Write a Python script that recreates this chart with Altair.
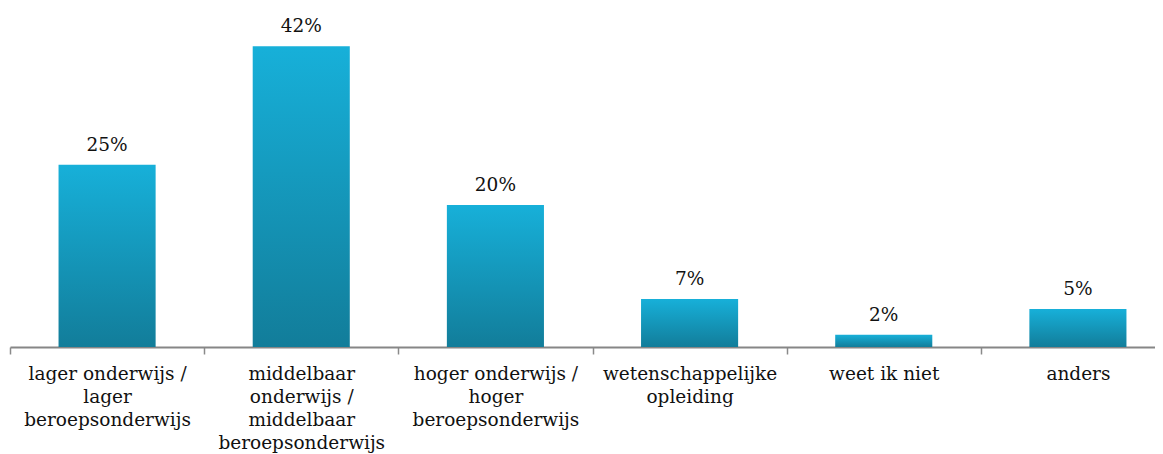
import altair as alt
import pandas as pd

label_lines = [
    ["lager onderwijs /", "lager", "beroepsonderwijs"],
    ["middelbaar", "onderwijs /", "middelbaar", "beroepsonderwijs"],
    ["hoger onderwijs /", "hoger", "beroepsonderwijs"],
    ["wetenschappelijke", "opleiding"],
    ["weet ik niet"],
    ["anders"],
]
values = [25.4, 41.9, 19.8, 6.7, 1.7, 5.3]

categories = ["|".join(l) for l in label_lines]
df = pd.DataFrame({"cat": categories, "value": values})

FONT = "DejaVu Serif"
FS = 18.5

x = alt.X(
    "cat:N",
    sort=categories,
    title=None,
    scale=alt.Scale(paddingInner=0, paddingOuter=0),
    axis=alt.Axis(
        labelExpr="split(datum.label, '|')",
        labelAngle=0,
        labelFont=FONT,
        labelFontSize=FS,
        labelColor="#111111",
        labelLineHeight=23.3,
        labelPadding=10,
        labelLimit=300,
        tickBand="extent",
        tickSize=7,
        tickWidth=1.5,
        tickColor="#8a8a8a",
        domainColor="#868686",
        domainWidth=2,
        grid=False,
    ),
)
y = alt.Y("value:Q", title=None, scale=alt.Scale(domain=[0, 45]), axis=None)

bars = alt.Chart(df).mark_bar(
    width=alt.RelativeBandSize(0.5),
    color={
        "gradient": "linear",
        "x1": 0, "y1": 0, "x2": 0, "y2": 1,
        "stops": [
            {"offset": 0, "color": "#17b0d9"},
            {"offset": 1, "color": "#127d9a"},
        ],
    },
).encode(x=x, y=y)

text = alt.Chart(df).transform_calculate(
    lab="format(datum.value, '.0f') + '%'"
).mark_text(
    font=FONT, fontSize=FS, color="#111111", baseline="alphabetic", dy=-14
).encode(x=x, y=y, text="lab:N")

chart = (bars + text).properties(
    width=1165,
    height=323,
    background="white",
    autosize=alt.AutoSizeParams(type="none"),
    padding={"left": 2, "top": 16, "right": -20, "bottom": 107},
).configure_view(stroke=None)

chart.save("out.html", embed_options={"renderer": "svg", "actions": False})
